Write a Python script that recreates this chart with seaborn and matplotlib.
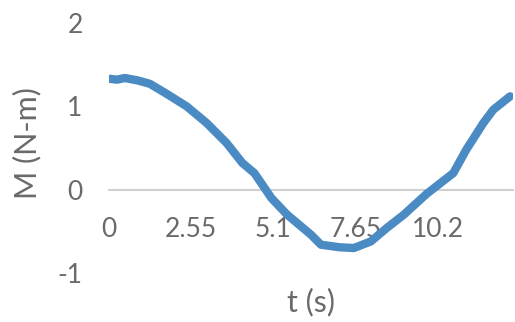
import matplotlib
matplotlib.use("Agg")
import matplotlib.pyplot as plt
import seaborn as sns
import pandas as pd

# Data
t_values = [0.03, 0.25, 0.49, 0.9, 1.27, 1.79, 2.41, 3.03, 3.65, 4.14, 4.51, 4.67,
            5.04, 5.53, 6.27, 6.58, 7.14, 7.60, 8.13, 8.62, 9.15, 9.86, 10.69,
            11.09, 11.62, 11.93, 12.45]
m_values = [1.33, 1.32, 1.34, 1.31, 1.27, 1.15, 1.0, 0.8, 0.56, 0.32, 0.2, 0.11,
            -0.1, -0.3, -0.54, -0.66, -0.69, -0.70, -0.62, -0.46, -0.3, -0.05, 0.2,
            0.48, 0.8, 0.96, 1.12]
x_ticks = [0, 2.55, 5.1, 7.65, 10.2]
x_tick_labels = ["0", "2.55", "5.1", "7.65", "10.2"]
y_ticks = [-1, 0, 1, 2]

df = pd.DataFrame({"t": t_values, "M": m_values})

sns.set_theme(style="white")
plt.rcParams["font.family"] = ["Lato", "DejaVu Sans"]

fig = plt.figure(figsize=(5.15, 3.22), dpi=100)
ax = fig.add_axes([0.2117, 0.152, 0.785, 0.7766])

sns.lineplot(data=df, x="t", y="M", ax=ax, color="#4B8BC4", linewidth=6,
             solid_capstyle="round", solid_joinstyle="round")

ax.set_xlim(0, 12.55)
ax.set_ylim(-1, 2)

for s in ["top", "right", "left"]:
    ax.spines[s].set_visible(False)
ax.spines["bottom"].set_position(("data", 0))
ax.spines["bottom"].set_color("#D0D0D0")
ax.spines["bottom"].set_linewidth(1.5)
ax.spines["bottom"].set_zorder(0)

ax.set_xticks(x_ticks)
ax.set_xticklabels(x_tick_labels)
ax.set_yticks(y_ticks)
ax.set_yticklabels([str(v) for v in y_ticks])
ax.tick_params(axis="x", length=0, pad=20, labelsize=19, labelcolor="#6A6A6A")
ax.tick_params(axis="y", length=0, pad=19, labelsize=19, labelcolor="#6A6A6A")
for lab in ax.get_xticklabels():
    lab.set_zorder(1)

ax.set_xlabel("")
ax.set_ylabel("")
fig.text(311 / 515, 1 - 302 / 322, "t (s)", ha="center", va="center",
         fontsize=22, color="#6A6A6A")
fig.text(27 / 515, 1 - 143 / 322, "M (N-m)", ha="center", va="center",
         rotation=90, fontsize=22, color="#6A6A6A")

fig.savefig("out.png", dpi=100)
